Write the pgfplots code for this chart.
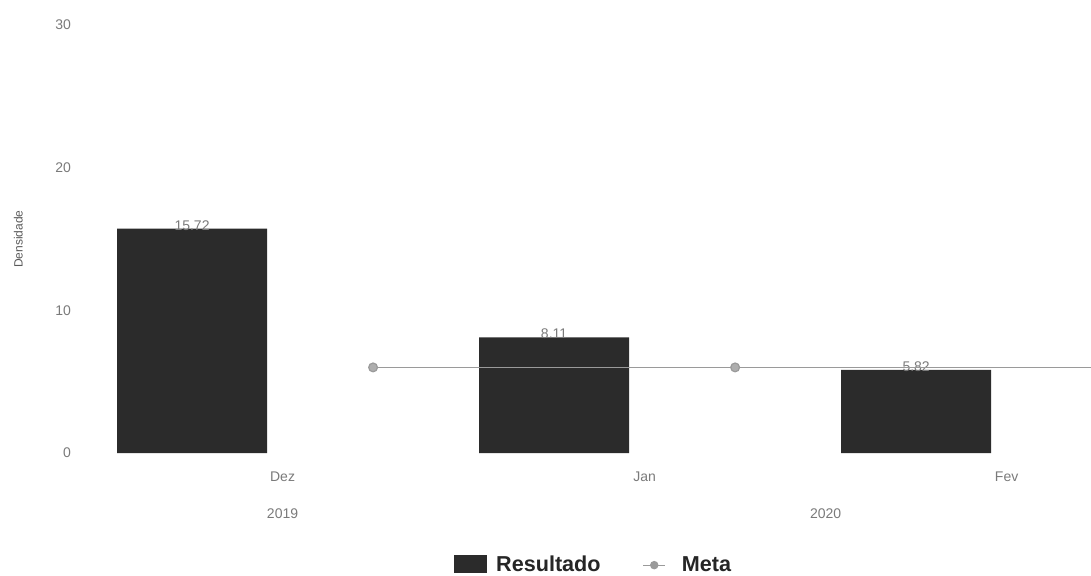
\documentclass[border=0pt]{standalone}
\usepackage{pgfplots}
\pgfplotsset{compat=1.18}
\usepackage{fontspec}
\setmainfont{Liberation Sans}
\definecolor{barc}{HTML}{2B2B2B}
\definecolor{metac}{HTML}{9A9A9A}
\definecolor{txt}{HTML}{7A7A7A}
\begin{document}
\begin{tikzpicture}
\path[use as bounding box] (-39pt,-61pt) rectangle (506.5pt,226.5pt);
\begin{axis}[
  scale only axis,
  width=506.5pt, height=214pt,
  xmin=-0.315, xmax=2.483,
  ymin=0, ymax=30,
  ytick={0,10,20,30},
  xtick={0.25,1.25,2.25},
  xticklabels={Dez,Jan,Fev},
  extra x ticks={0.25,1.75},
  extra x tick labels={2019,2020},
  extra x tick style={tick label style={yshift=-18.5pt}},
  axis line style={draw=none},
  major tick length=0pt,
  tick label style={font=\fontsize{7}{8}\selectfont, text=txt},
  xticklabel style={yshift=-6pt},
  /pgf/number format/assume math mode=true,
  ylabel={Densidade},
  ylabel style={font=\fontsize{6}{7}\selectfont, text=black!65, at={(axis description cs:-0.059,0.5)}, anchor=center},
  clip marker paths=true,
  legend style={at={(axis description cs:0.51,-0.262)}, anchor=center, draw=none, legend columns=2,
    font=\bfseries\fontsize{10.8}{12}\selectfont, text=black!85,
    /tikz/every even column/.append style={column sep=19pt}},
  legend image code/.code={\fill[barc] (0pt,-4pt) rectangle (16.5pt,5pt); \path (19pt,0pt);},
]
\addplot[ybar, bar width=75pt, fill=barc, draw=none,
  nodes near coords, nodes near coords style={font=\fontsize{7}{8}\selectfont, text=txt, anchor=south, inner sep=1pt, yshift=-2pt,
  /pgf/number format/.cd, fixed, precision=2, fixed zerofill}]
  coordinates {(0,15.72) (1,8.11) (2,5.82)};
\addlegendentry{Resultado}
\addplot[metac, line width=0.6pt, mark=*, mark size=2.2pt, mark options={fill=metac!80, draw=metac},
  legend image code/.code={\draw[metac, line width=0.6pt] (0pt,0pt) -- (11pt,0pt); \fill[metac] (5.5pt,0pt) circle (1.8pt); \path (17pt,0pt);}]
  coordinates {(0.5,6) (1.5,6) (2.5,6)};
\addlegendentry{Meta}
\end{axis}
\end{tikzpicture}
\end{document}
